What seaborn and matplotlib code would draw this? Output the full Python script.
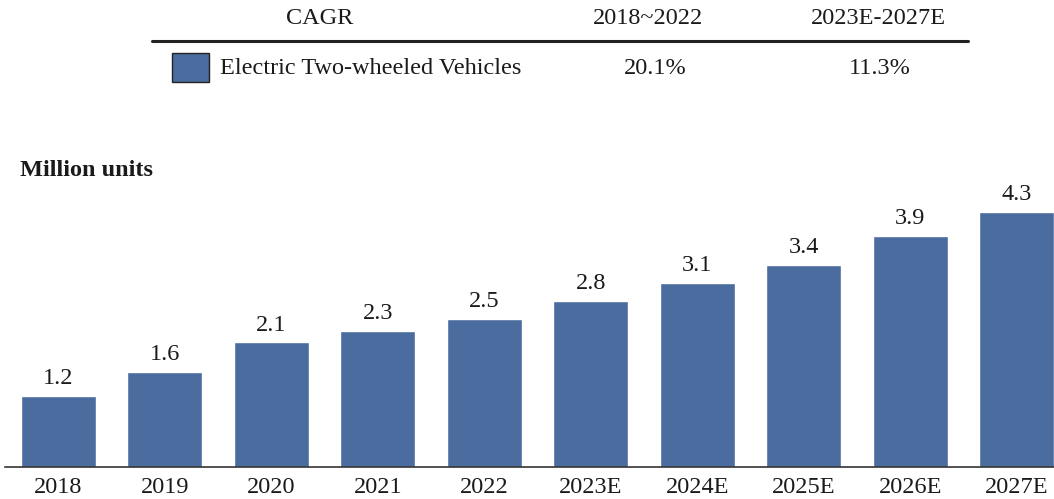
import matplotlib
matplotlib.use("Agg")
import matplotlib.pyplot as plt
import seaborn as sns
import pandas as pd
from matplotlib.patches import Rectangle
from matplotlib.lines import Line2D

years = ["2018", "2019", "2020", "2021", "2022", "2023E", "2024E", "2025E", "2026E", "2027E"]
values = [1.2, 1.6, 2.1, 2.3, 2.5, 2.8, 3.1, 3.4, 3.9, 4.3]
cagr_header = ["CAGR", "2018~2022", "2023E-2027E"]
series_name = "Electric Two-wheeled Vehicles"
cagr_values = ["20.1%", "11.3%"]
unit_label = "Million units"

BAR = "#4B6C9E"
FS = 17.5

sns.set_theme(style="white")
plt.rcParams["font.family"] = ["Liberation Serif", "DejaVu Serif"]

W, H = 1054, 499
fig = plt.figure(figsize=(W / 100, H / 100), dpi=100)

def fx(px):
    return px / W

def fy(py):
    return 1 - py / H

ax = fig.add_axes([fx(5), fy(467), fx(1054) - fx(5), fy(190) - fy(467)])
df = pd.DataFrame({"year": years, "value": values})
sns.barplot(data=df, x="year", y="value", color=BAR, width=0.70, saturation=1, ax=ax)
ax.set_xlim(-0.5, 9.35)
ax.set_ylim(0, (467 - 190) / 59.3)
for i, v in enumerate(values):
    ax.annotate(f"{v:.1f}", (i, v), xytext=(0, 5), textcoords="offset points",
                ha="center", va="bottom", fontsize=FS, color="#1a1a1a")
ax.set_xlabel("")
ax.set_ylabel("")
ax.set_yticks([])
ax.tick_params(axis="x", length=0, labelsize=FS, pad=7, colors="#1a1a1a")
for s in ["top", "right", "left"]:
    ax.spines[s].set_visible(False)
ax.spines["bottom"].set_color("#333333")
ax.spines["bottom"].set_linewidth(1.2)

# Header table
fig.text(fx(320), fy(19), cagr_header[0], ha="center", va="center", fontsize=FS, color="#1a1a1a")
fig.text(fx(648), fy(19), cagr_header[1], ha="center", va="center", fontsize=FS, color="#1a1a1a")
fig.text(fx(878), fy(19), cagr_header[2], ha="center", va="center", fontsize=FS, color="#1a1a1a")
fig.add_artist(Line2D([fx(152), fx(968)], [fy(41), fy(41)], color="#222222", linewidth=2.2))
fig.add_artist(Rectangle((fx(172), fy(82)), fx(209) - fx(172), fy(53) - fy(82),
                         facecolor=BAR, edgecolor="#222222", linewidth=1.0))
fig.text(fx(220), fy(69), series_name, ha="left", va="center", fontsize=FS, color="#1a1a1a")
fig.text(fx(655), fy(69), cagr_values[0], ha="center", va="center", fontsize=FS, color="#1a1a1a")
fig.text(fx(880), fy(69), cagr_values[1], ha="center", va="center", fontsize=FS, color="#1a1a1a")

fig.text(fx(20), fy(170), unit_label, ha="left", va="center", fontsize=FS, fontweight="bold", color="#1a1a1a")

fig.savefig("out.png", dpi=100)
